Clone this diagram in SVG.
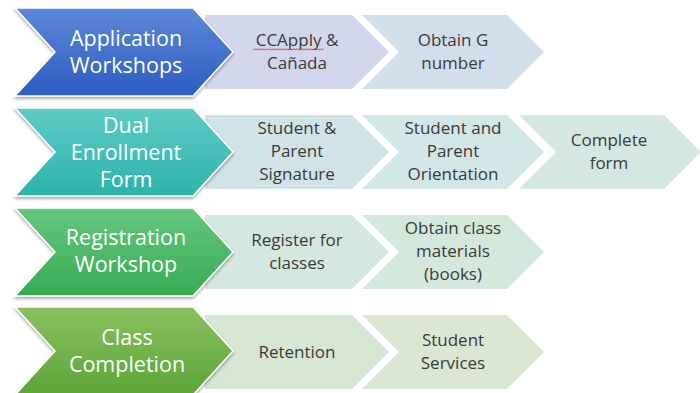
<svg xmlns="http://www.w3.org/2000/svg" width="700" height="393" viewBox="0 0 700 393">
<defs>
<linearGradient id="gBlue" x1="0" y1="0" x2="0" y2="1"><stop offset="0" stop-color="#5d88d8"/><stop offset="1" stop-color="#2e5dc1"/></linearGradient>
<linearGradient id="gTeal" x1="0" y1="0" x2="0" y2="1"><stop offset="0" stop-color="#5ecbc5"/><stop offset="1" stop-color="#2cb3ab"/></linearGradient>
<linearGradient id="gGreen" x1="0" y1="0" x2="0" y2="1"><stop offset="0" stop-color="#65c67e"/><stop offset="1" stop-color="#37ac54"/></linearGradient>
<linearGradient id="gLime" x1="0" y1="0" x2="0" y2="1"><stop offset="0" stop-color="#88c060"/><stop offset="1" stop-color="#5ca538"/></linearGradient>
<filter id="sh" x="-10%" y="-10%" width="120%" height="130%"><feDropShadow dx="0" dy="2" stdDeviation="1.5" flood-color="#000" flood-opacity="0.35"/></filter>
</defs>
<style>
.main{stroke:#fff;stroke-width:1.5;filter:url(#sh)}
.mt{font-family:"Open Sans","Noto Sans",sans-serif;font-size:21.5px;fill:#fff;text-anchor:middle}
.st{font-family:"Open Sans","Noto Sans",sans-serif;font-size:17px;fill:#3a3a3a;text-anchor:middle}
</style>
<rect width="700" height="393" fill="#fff"/>

<!-- Row 1 -->
<g id="r1s1"><polygon points="205,15 352,15 389,52 352,89 205,89" fill="#d3d7ec"/>
<text class="st" x="297" y="46">CCApply &amp;</text><text class="st" x="297" y="69">Cañada</text>
<path d="M253,50 l1.5,-1.2 l1.5,1.2 l1.5,-1.2 l1.5,1.2 l1.5,-1.2 l1.5,1.2 l1.5,-1.2 l1.5,1.2 l1.5,-1.2 l1.5,1.2 l1.5,-1.2 l1.5,1.2 l1.5,-1.2 l1.5,1.2 l1.5,-1.2 l1.5,1.2 l1.5,-1.2 l1.5,1.2 l1.5,-1.2 l1.5,1.2 l1.5,-1.2 l1.5,1.2 l1.5,-1.2 l1.5,1.2 l1.5,-1.2 l1.5,1.2 l1.5,-1.2 l1.5,1.2 l1.5,-1.2 l1.5,1.2 l1.5,-1.2 l1.5,1.2 l1.5,-1.2 l1.5,1.2 l1.5,-1.2 l1.5,1.2 l1.5,-1.2 l1.5,1.2 l1.5,-1.2 l1.5,1.2 l1.5,-1.2 l1.5,1.2 l1.5,-1.2 l1.5,1.2 l1.5,-1.2 l1.5,1.2 l1.5,-1.2" fill="none" stroke="#e03030" stroke-width="0.9"/></g>
<g id="r1s2"><polygon points="362,15 507,15 544,52 507,89 362,89 399,52" fill="#d3deeb"/>
<text class="st" x="453" y="46">Obtain G</text><text class="st" x="453" y="69">number</text></g>
<g id="r1m"><polygon class="main" points="15,8 193,8 233,52 193,96 15,96 55,52" fill="url(#gBlue)"/>
<text class="mt" x="126" y="46">Application</text><text class="mt" x="126" y="73">Workshops</text></g>

<!-- Row 2 -->
<g id="r2s1"><polygon points="205,115 352,115 389,152 352,189 205,189" fill="#d1e3e7"/>
<text class="st" x="297" y="134">Student &amp;</text><text class="st" x="297" y="157">Parent</text><text class="st" x="297" y="180">Signature</text></g>
<g id="r2s2"><polygon points="362,115 507,115 544,152 507,189 362,189 399,152" fill="#d3e6e8"/>
<text class="st" x="453" y="134">Student and</text><text class="st" x="453" y="157">Parent</text><text class="st" x="453" y="180">Orientation</text></g>
<g id="r2s3"><polygon points="519,115 664,115 701,152 664,189 519,189 556,152" fill="#d5e7e3"/>
<text class="st" x="609" y="146">Complete</text><text class="st" x="609" y="169">form</text></g>
<g id="r2m"><polygon class="main" points="15,108 193,108 233,152 193,196 15,196 55,152" fill="url(#gTeal)"/>
<text class="mt" x="126" y="133">Dual</text><text class="mt" x="126" y="160">Enrollment</text><text class="mt" x="126" y="187">Form</text></g>

<!-- Row 3 -->
<g id="r3s1"><polygon points="205,215 352,215 389,252 352,289 205,289" fill="#d5e8df"/>
<text class="st" x="297" y="246">Register for</text><text class="st" x="297" y="269">classes</text></g>
<g id="r3s2"><polygon points="362,215 507,215 544,252 507,289 362,289 399,252" fill="#d4e8db"/>
<text class="st" x="453" y="234">Obtain class</text><text class="st" x="453" y="257">materials</text><text class="st" x="453" y="280">(books)</text></g>
<g id="r3m"><polygon class="main" points="15,208 193,208 233,252 193,296 15,296 55,252" fill="url(#gGreen)"/>
<text class="mt" x="126" y="245">Registration</text><text class="mt" x="126" y="272">Workshop</text></g>

<!-- Row 4 -->
<g id="r4s1"><polygon points="205,315 352,315 389,352 352,389 205,389" fill="#d8e7d4"/>
<text class="st" x="297" y="358">Retention</text></g>
<g id="r4s2"><polygon points="362,315 507,315 544,352 507,389 362,389 399,352" fill="#dbe6d3"/>
<text class="st" x="453" y="346">Student</text><text class="st" x="453" y="369">Services</text></g>
<g id="r4m"><polygon class="main" points="15,307 193,307 233,351 193,395 15,395 55,351" fill="url(#gLime)"/>
<text class="mt" x="127" y="345">Class</text><text class="mt" x="127" y="372">Completion</text></g>
</svg>
